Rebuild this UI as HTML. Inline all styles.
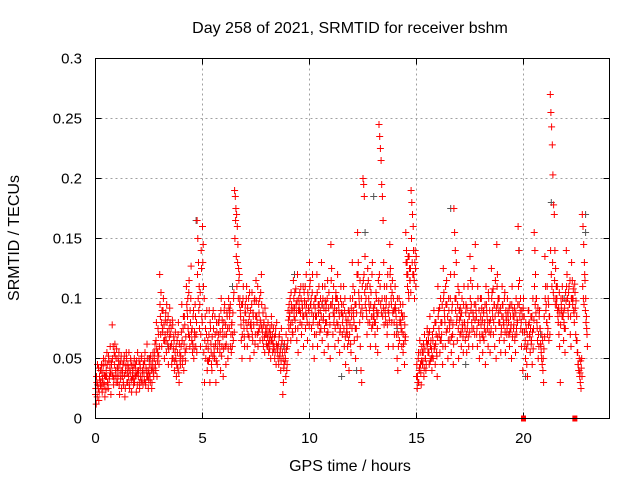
<!DOCTYPE html>
<html><head><meta charset="utf-8"><style>
body{margin:0;background:#fff}
svg{display:block;font-family:"Liberation Sans",sans-serif}
</style></head><body>
<svg id="chart" width="640" height="480" viewBox="0 0 640 480">
<rect width="640" height="480" fill="#fff"/>
<text x="350" y="33" font-size="16" text-anchor="middle" fill="#000">Day 258 of 2021, SRMTID for receiver bshm</text>
<g id="grid"></g>
<g id="ticks"></g>
<g id="points"></g>
<rect x="95.5" y="58.5" width="514" height="360" fill="none" stroke="#000" stroke-width="1"/>
<text x="350" y="471" font-size="16" text-anchor="middle">GPS time / hours</text>
<text transform="translate(19,238) rotate(-90)" font-size="16" text-anchor="middle">SRMTID / TECUs</text>
</svg>
<script>
const xTicks=[0,5,10,15,20];
const yTicks=[0,0.05,0.1,0.15,0.2,0.25,0.3];
const yTickLabels=["0","0.05","0.1","0.15","0.2","0.25","0.3"];
const binStarts=[0,0.25,0.5,0.75,1,1.25,1.5,1.75,2,2.25,2.5,2.75,3,3.25,3.5,3.75,4,4.25,4.5,4.75,5,5.25,5.5,5.75,6,6.25,6.5,6.75,7,7.25,7.5,7.75,8,8.25,8.5,8.75,9,9.25,9.5,9.75,10,10.25,10.5,10.75,11,11.25,11.5,11.75,12,12.25,12.5,12.75,13,13.25,13.5,13.75,14,14.25,14.5,14.75,15,15.25,15.5,15.75,16,16.25,16.5,16.75,17,17.25,17.5,17.75,18,18.25,18.5,18.75,19,19.25,19.5,19.75,20,20.25,20.5,20.75,21,21.25,21.5,21.75,22,22.25,22.5,22.75];
const binValues=[
[20,12,30,45,25,15,35,40],[30,45,22,38,50,28,18,35],[40,55,30,25,48,35,60,20],[45,78,35,28,55,62,40,30],
[50,30,42,55,20,38,48,25],[35,45,28,52,18,40,55,30],[30,42,55,25,38,48,22,35],[40,28,50,35,45,22,38,55],
[35,48,25,42,30,52,38,28],[45,32,55,28,40,62,35,25],[38,50,30,45,25,42,55,35],[50,62,40,80,35,55,70,45],
[120,85,105,60,75,90,65,50],[70,88,55,80,62,45,75,92],[60,75,45,82,50,68,40,55],[50,35,65,42,80,30,55,45],
[60,95,45,75,40,85,55,68],[110,90,100,70,115,60,80,127],[65,55,85,50,72,95,60,80],[165,150,130,110,95,60,140,85],
[160,145,55,30,85,50,70,40],[65,48,90,30,75,55,40,85],[90,60,50,70,30,80,45,65],[70,85,55,40,100,60,75,35],
[80,95,60,45,70,85,50,100],[75,90,60,55,80,70,65,105],[190,185,175,170,160,145,125,120],[100,85,65,50,95,110,75,60],
[95,80,110,60,70,100,85,50],[90,75,105,65,85,55,100,70],[115,85,70,60,95,75,65,105],[120,75,65,60,80,55,70,85],
[70,60,80,55,65,75,50,85],[65,55,75,60,50,70,45,80],[60,50,45,70,55,40,75,65],[20,30,45,55,50,70,40,60],
[90,75,85,100,65,95,80,70],[115,85,105,75,95,65,120,55],[100,90,80,110,70,95,85,60],[105,95,75,120,85,65,100,90],
[130,115,95,75,105,60,85,50],[100,85,70,120,60,95,110,80],[90,75,130,65,100,85,55,110],[80,95,70,115,60,105,85,50],
[145,125,95,70,110,85,60,100],[100,80,120,65,90,55,75,110],[95,70,85,110,60,100,45,80],[75,60,90,40,70,100,55,85],
[130,110,85,65,95,50,75,120],[155,130,100,80,60,40,30,110],[200,195,185,135,110,90,70,125],[115,95,80,60,105,75,130,85],
[90,80,70,60,100,85,55,115],[245,235,225,215,195,185,165,130],[110,90,80,100,70,120,60,95],[145,125,100,80,115,60,90,70],
[110,90,70,50,40,60,100,80],[95,75,60,85,55,70,45,65],[155,140,130,120,105,135,115,125],[190,180,170,160,120,100,140,110],
[35,25,30,55,40,65,45,28],[60,45,55,35,70,50,40,65],[75,55,65,45,85,60,50,40],[70,50,90,60,45,80,55,35],
[110,90,70,55,100,65,80,45],[125,105,85,60,95,115,75,50],[100,80,65,120,55,90,70,45],[175,155,140,100,80,65,110,50],
[90,70,85,60,100,75,55,110],[80,65,95,55,75,110,60,85],[135,115,95,75,60,85,125,70],[145,90,70,60,100,80,50,65],
[85,100,70,55,90,65,80,45],[110,90,75,60,100,80,55,70],[125,105,85,70,95,60,115,50],[145,120,100,80,65,90,55,75],
[110,95,80,65,105,55,85,70],[100,85,70,60,95,75,50,110],[90,75,85,65,55,100,70,80],[160,140,115,90,75,60,85,40],
[100,85,60,50,75,45,35,90],[90,70,55,85,65,45,100,75],[155,140,120,100,80,65,50,60],[90,75,60,50,45,40,30,85],
[135,110,95,80,70,100,65,85],[270,255,243,228,203,178,170,140],[125,110,100,90,80,70,60,30],[100,90,110,85,65,75,55,105],
[140,120,100,85,110,95,70,60],[130,115,100,90,80,105,70,65],[65,55,45,40,35,30,25,50],[170,160,145,130,115,100,85,70]];
const binValues2=[
[25,35,18,28,42,22,32,27],[40,25,33,44,29,36,48,24],[35,45,28,52,33,42,38,47],[38,50,60,33,45,52,36,58],
[42,35,48,28,45,33,52,40],[40,30,48,36,25,44,50,38],[45,35,28,40,50,32,44,38],[33,45,30,42,36,48,28,40],
[40,30,45,35,50,32,40,45],[38,48,30,42,35,50,40,32],[45,35,52,40,30,48,38,42],[55,45,65,58,48,75,52,60],
[95,70,80,90,72,100,78,65],[82,65,95,72,85,58,68,80],[70,62,50,78,58,65,48,72],[60,45,55,70,38,62,48,52],
[72,65,50,85,62,78,48,58],[95,85,75,105,68,90,100,72],[75,62,90,58,68,85,70,55],[120,100,90,75,105,70,125,80],
[130,110,100,65,75,60,90,48],[58,70,50,80,62,45,68,52],[75,55,85,62,48,72,58,80],[80,62,72,90,52,82,68,58],
[90,70,78,62,88,75,58,92],[85,95,70,78,60,88,100,72],[150,165,135,110,130,100,115,95],[90,78,95,70,100,82,68,88],
[88,100,75,92,80,68,105,78],[80,95,70,88,78,98,62,85],[98,80,110,72,88,100,82,78],[95,72,88,78,68,92,75,62],
[75,68,62,72,58,70,65,78],[70,62,58,68,55,75,62,58],[55,62,68,52,58,48,62,55],[50,42,62,48,35,58,45,65],
[82,95,88,78,105,90,72,92],[100,92,82,108,88,98,75,90],[95,105,88,100,78,92,110,85],[98,110,88,95,80,105,92,78],
[110,95,100,88,120,80,95,70],[92,100,85,105,78,88,95,72],[100,85,95,110,82,92,75,98],[90,80,100,72,92,85,78,95],
[115,95,100,88,80,92,75,105],[90,100,78,95,85,72,100,88],[88,80,95,75,90,68,85,72],[70,82,65,88,78,62,92,75],
[100,90,80,105,75,95,88,68],[120,105,95,115,88,100,92,85],[115,120,105,95,100,85,110,80],[100,90,110,95,85,120,78,92],
[85,95,80,105,90,75,88,98],[120,110,95,88,100,85,92,78],[100,85,95,110,78,90,88,82],[120,110,95,105,88,100,80,92],
[95,85,78,100,70,90,65,82],[80,88,72,95,62,85,78,68],[130,120,110,135,100,125,115,105],[150,130,120,140,115,130,125,135],
[45,35,50,30,42,55,38,48],[55,48,62,42,58,50,45,62],[62,70,55,72,48,65,58,52],[65,75,58,80,62,70,52,68],
[85,75,92,65,80,70,95,60],[100,90,80,110,72,95,85,65],[90,75,100,82,68,95,78,62],[120,100,90,130,85,95,75,105],
[82,92,72,88,78,68,95,80],[75,88,70,92,80,68,85,72],[100,90,80,110,88,75,95,82],[95,85,75,110,80,90,70,100],
[78,92,82,68,88,75,95,72],[95,85,80,105,72,90,82,75],[100,90,108,80,95,85,75,92],[110,95,88,100,80,92,70,85],
[95,85,78,100,72,90,82,75],[88,80,92,72,85,78,95,68],[85,78,92,70,88,75,82,95],[110,95,85,100,80,90,72,92],
[85,72,65,80,58,70,62,78],[80,68,75,62,85,72,58,82],[110,95,88,100,75,92,70,85],[75,62,55,70,65,50,58,68],
[100,90,80,110,75,95,85,70],[140,120,110,130,105,100,115,95],[100,95,110,85,92,105,88,78],[95,85,100,88,80,92,75,98],
[110,100,90,105,95,115,85,100],[100,95,108,88,112,92,98,85],[55,45,40,50,38,48,42,35],[110,100,95,120,90,80,75,60]];
const grayTimes=[4.7,8.8,12.2,12.6,13.0,16.6,19.8,20.1,21.3,22.9,22.9,11.5,17.3,2.5,9.3,3.4,6.4,10.6,14.1,18.9,20.8,21.9];
const grayValues=[165,60,40,155,185,175,140,35,180,170,155,35,45,50,120,60,110,95,75,90,70,100];
const zeroTimes=[20.0,22.4];
const zeroValues=[0,0];

const X=t=>95.5+t*21.4, Y=v=>418.5-v*1200;
const NS='http://www.w3.org/2000/svg';
const grid=document.getElementById('grid'),ticks=document.getElementById('ticks'),pts=document.getElementById('points');
function mk(tag,attrs,parent){const e=document.createElementNS(NS,tag);for(const k in attrs)e.setAttribute(k,attrs[k]);parent.appendChild(e);return e;}
xTicks.forEach(t=>{const x=X(t);
 if(t>0){const g=mk('line',{x1:x,x2:x,y1:58.5,y2:418.5,stroke:'#a0a0a0','stroke-dasharray':'2,3'},grid);
 
 }
 const a=mk('path',{d:`M${x},418.5v-6M${x},58.5v6`,stroke:'#000'},ticks);
 
 
 const l=mk('text',{x:x,y:443,'font-size':15,'text-anchor':'middle'},ticks);l.textContent=t;
 
 
});
yTicks.forEach((v,i)=>{const y=Y(v);
 if(v>0&&v<0.3){const g=mk('line',{x1:95.5,x2:609.5,y1:y,y2:y,stroke:'#a0a0a0','stroke-dasharray':'2,3'},grid);
 
 }
 const a=mk('path',{d:`M95.5,${y}h6M609.5,${y}h-6`,stroke:'#000'},ticks);
 
 
 const l=mk('text',{x:82,y:y+5,'font-size':15,'text-anchor':'end'},ticks);l.textContent=yTickLabels[i];
 
 
});
function plus(t,v){const x=X(t),y=Y(v/1000);return `M${(x-3.5).toFixed(1)},${y.toFixed(1)}h7M${x.toFixed(1)},${(y-3.5).toFixed(1)}v7`;}
let gd='';grayTimes.forEach((t,i)=>{gd+=plus(t,grayValues[i]);});
const gp=mk('path',{d:gd,stroke:'#555',fill:'none','stroke-width':1},pts);


let rd='';
binStarts.forEach((t0,b)=>{const vals=binValues[b];vals.forEach((v,j)=>{rd+=plus(t0+j*0.25/vals.length,v);});});
binStarts.forEach((t0,b)=>{const vals=binValues2[b];vals.forEach((v,j)=>{rd+=plus(t0+(j+0.5)*0.25/vals.length,v);});});
const rp=mk('path',{d:rd,stroke:'#f00',fill:'none','stroke-width':1},pts);


zeroTimes.forEach((t,i)=>{const r=mk('rect',{x:X(t)-2.5,y:Y(zeroValues[i])-3,width:5,height:6,fill:'#f00'},pts);
 
 });
</script>
</body></html>
